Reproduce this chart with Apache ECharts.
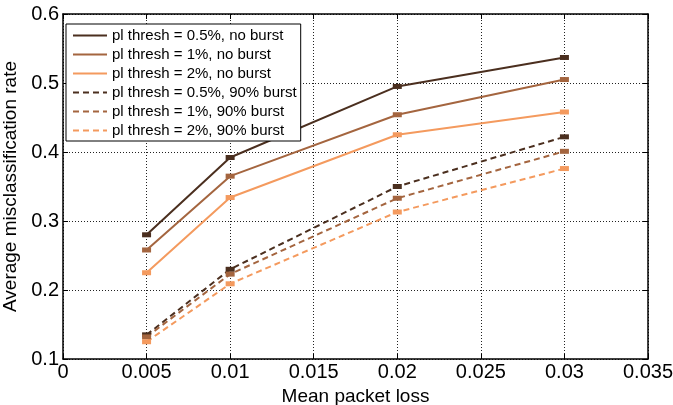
<!DOCTYPE html>
<html>
<head>
<meta charset="utf-8">
<script src="https://cdn.jsdelivr.net/npm/echarts@6/dist/echarts.min.js"></script>
<style>
  html, body { margin: 0; padding: 0; background: #fff; }
  #main { width: 673px; height: 405px; }
</style>
</head>
<body>
<div id="main"></div>
<script>
// 数据
var lossValues = [0.005, 0.01, 0.02, 0.03];
var noBurst05 = [0.280, 0.392, 0.495, 0.537];
var noBurst1 = [0.258, 0.365, 0.454, 0.505];
var noBurst2 = [0.225, 0.334, 0.425, 0.458];
var burst05 = [0.135, 0.230, 0.350, 0.422];
var burst1 = [0.132, 0.223, 0.333, 0.401];
var burst2 = [0.125, 0.209, 0.313, 0.376];
var seriesNames = [
	'pl thresh = 0.5%, no burst',
	'pl thresh = 1%, no burst',
	'pl thresh = 2%, no burst',
	'pl thresh = 0.5%, 90% burst',
	'pl thresh = 1%, 90% burst',
	'pl thresh = 2%, 90% burst'
];

var dark = '#4b2f1f';
var mid = '#a4653f';
var light = '#f49a5e';
var font = 'Liberation Sans, Arial, sans-serif';

// 组合成 [x, y]
function pairs(vals) {
	return vals.map(function(v, i) {
		return [lossValues[i], v];
	});
}

function makeSeries(name, vals, color, dashed) {
	return {
		name : name,
		type : 'line',
		data : pairs(vals),
		symbol : 'rect',
		symbolSize : [9, 5],
		showSymbol : true,
		itemStyle : { color : color },
		lineStyle : {
			color : color,
			width : 2,
			type : dashed ? [6, 4] : 'solid'
		},
		emphasis : { disabled : true },
		animation : false
	};
}

var gridLine = { show : true, lineStyle : { color : '#222', width : 1, type : [1, 2] } };
var axisLine = { show : true, onZero : false, lineStyle : { color : '#000', width : 1.5 } };
var tick = { show : true, inside : true, length : 5, lineStyle : { color : '#000' } };

var myChart = echarts.init(document.getElementById('main'));
var option = {
	backgroundColor : '#fff',
	animation : false,
	grid : { left : 63, right : 25, top : 14, bottom : 46, outerBoundsMode : 'none', containLabel : false },
	legend : {
		orient : 'vertical',
		left : 66,
		top : 24,
		padding : [4, 4, 3, 6],
		itemWidth : 34,
		itemHeight : 14,
		itemGap : 4,
		borderColor : '#000',
		borderWidth : 1,
		backgroundColor : '#fff',
		itemStyle : { opacity : 0 },
		textStyle : { fontFamily : font, fontSize : 15, lineHeight : 15, color : '#000' },
		data : seriesNames
	},
	xAxis : [ {
		type : 'value',
		min : 0,
		max : 0.035,
		interval : 0.005,
		name : 'Mean packet loss',
		nameLocation : 'middle',
		nameGap : 23,
		nameTextStyle : { fontFamily : font, fontSize : 19, color : '#000' },
		axisLine : axisLine,
		axisTick : tick,
		splitLine : gridLine,
		axisLabel : { fontFamily : font, fontSize : 20, color : '#000', margin : 3 }
	}, {
		type : 'value',
		position : 'top',
		min : 0,
		max : 0.035,
		interval : 0.005,
		axisLine : axisLine,
		axisTick : tick,
		splitLine : { show : false },
		axisLabel : { show : false }
	} ],
	yAxis : [ {
		type : 'value',
		min : 0.1,
		max : 0.6,
		interval : 0.1,
		name : 'Average misclassification rate',
		nameLocation : 'middle',
		nameGap : 35,
		nameTextStyle : { fontFamily : font, fontSize : 19, color : '#000' },
		axisLine : axisLine,
		axisTick : tick,
		splitLine : gridLine,
		axisLabel : { fontFamily : font, fontSize : 20, color : '#000', margin : 4 }
	}, {
		type : 'value',
		position : 'right',
		min : 0.1,
		max : 0.6,
		interval : 0.1,
		axisLine : axisLine,
		axisTick : tick,
		splitLine : { show : false },
		axisLabel : { show : false }
	} ],
	series : [
		makeSeries(seriesNames[0], noBurst05, dark, false),
		makeSeries(seriesNames[1], noBurst1, mid, false),
		makeSeries(seriesNames[2], noBurst2, light, false),
		makeSeries(seriesNames[3], burst05, dark, true),
		makeSeries(seriesNames[4], burst1, mid, true),
		makeSeries(seriesNames[5], burst2, light, true)
	]
};
myChart.setOption(option);
</script>
</body>
</html>
